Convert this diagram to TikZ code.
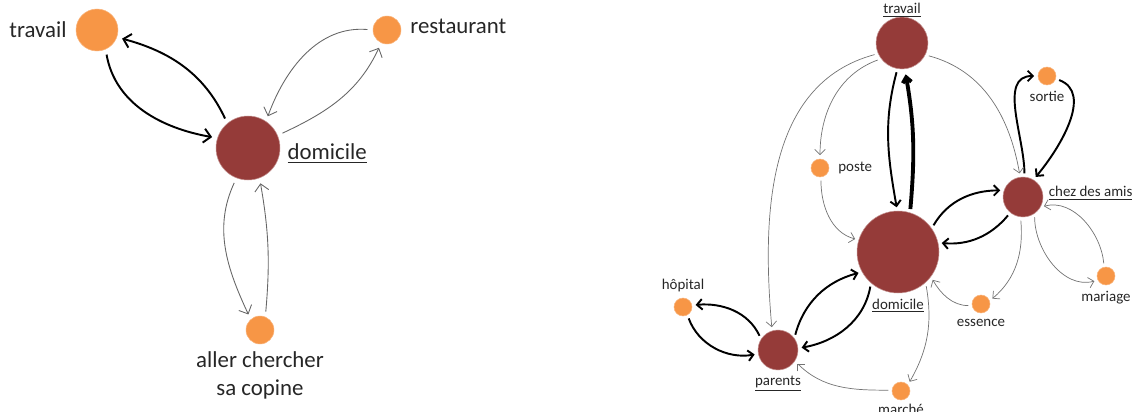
\documentclass[tikz,border=0pt]{standalone}
\usepackage{fontspec}
\setmainfont{Carlito}
\usetikzlibrary{positioning, arrows.meta}
\definecolor{lieu}{HTML}{953B39}
\definecolor{etape}{HTML}{F79646}

\begin{document}
\begin{tikzpicture}[
  x=0.02cm, y=-0.02cm,
  lieu/.style={circle, fill=lieu, draw=lieu!55!white, line width=0.3pt, inner sep=0pt, minimum size=#1},
  etape/.style={circle, fill=etape, draw=etape!70!white, line width=0.3pt, inner sep=0pt, minimum size=#1},
  grand/.style={font=\fontsize{13}{16}\selectfont, text=black!85, inner sep=1pt},
  petit/.style={font=\fontsize{8.5}{10}\selectfont, text=black!85, inner sep=1pt},
  fort/.style={-{Straight Barb[length=4pt,width=8pt]}, line width=1.1pt, shorten <=3pt, shorten >=3pt},
  faible/.style={-{Straight Barb[length=4pt,width=8pt]}, line width=0.5pt, draw=black!60, shorten <=3pt, shorten >=3pt},
  rfort/.style={-{Straight Barb[length=3pt,width=6pt]}, line width=1.1pt, shorten <=2pt, shorten >=2pt},
  rtresfort/.style={-{Straight Barb[length=3pt,width=5pt]}, line width=2.2pt, shorten <=2pt, shorten >=3pt},
  rfaible/.style={-{Straight Barb[length=3pt,width=6pt]}, line width=0.4pt, draw=black!55, shorten <=2pt, shorten >=2pt}
]
  \useasboundingbox (0,0) rectangle (1136,412);

  % Lieux (gauche)
  \node[lieu=1.28cm] (dom) at (248,148) {};
  \node[etape=0.84cm] (trav) at (97,30) {};
  \node[etape=0.56cm] (resto) at (387,30) {};
  \node[etape=0.56cm] (copine) at (260,330) {};

  \node[grand, left=4pt of trav] (travl) {travail};
  \node[grand, right=4pt of resto, yshift=2pt] (restol) {restaurant};
  \node[grand, right=3pt of dom, yshift=-3pt] (doml) {\underline{domicile}};
  \node[grand, below=3pt of copine, align=center] (copinel) {aller chercher\\sa copine};

  % Trajets (gauche)
  \draw[fort] (trav.-66) to[out=-80, in=170] (dom.162);
  \draw[fort] (dom.130) to[out=115, in=-15] (trav.-20);
  \draw[faible] (resto.180) to[out=175, in=70] (dom.56);
  \draw[faible] (dom.23) to[out=25, in=-115] (resto.-114);
  \draw[faible] (dom.-111) to[out=-115, in=115] (copine.131);
  \draw[faible] (copine.68) to[out=85, in=-80] (dom.-69);

  % Lieux (droite)
  \node[lieu=1.04cm] (rtrav) at (902,43) {};
  \node[lieu=1.64cm] (rdom) at (898,252) {};
  \node[lieu=0.8cm] (amis) at (1023,197) {};
  \node[lieu=0.8cm] (parents) at (778,350) {};
  \node[etape=0.36cm] (sortie) at (1047,76) {};
  \node[etape=0.36cm] (poste) at (820,168) {};
  \node[etape=0.36cm] (essence) at (981,304) {};
  \node[etape=0.36cm] (mariage) at (1106,276) {};
  \node[etape=0.36cm] (hopital) at (683,307) {};
  \node[etape=0.36cm] (marche) at (901,391) {};

  \node[petit, above=-1.5pt of rtrav] (rtravl) {\underline{travail}};
  \node[petit, below=2pt of sortie] (sortiel) {sortie};
  \node[petit, right=4pt of poste] (postel) {poste};
  \node[petit, right=2pt of amis, yshift=2pt] (amisl) {\underline{chez des amis}};
  \node[petit, below=2pt of rdom] (rdoml) {\underline{domicile}};
  \node[petit, above=2pt of hopital] (hopitall) {hôpital};
  \node[petit, below=2pt of parents] (parentsl) {\underline{parents}};
  \node[petit, below=2pt of essence] (essencel) {essence};
  \node[petit, below=2pt of mariage] (mariagel) {mariage};
  \node[petit, below=1pt of marche] (marchel) {marché};

  % Trajets (droite)
  \draw[rfort] (rtrav.-100) to[out=-105, in=100] (rdom.91);
  \draw[rtresfort] (rdom.73) to[out=85, in=-80] (rtrav.-84);
  \draw[rfort] (rdom.35) to[out=60, in=180] (amis.161);
  \draw[rfort] (amis.-129) to[out=-130, in=-5] (rdom.13);
  \draw[rfort] (amis.86) to[out=90, in=180] (sortie.180);
  \draw[rfort] (sortie.-18) to[out=-20, in=50] (amis.59);
  \draw[rfort] (parents.36) to[out=75, in=-165] (rdom.-151);
  \draw[rfort] (rdom.-131) to[out=-100, in=10] (parents.5);
  \draw[rfort] (parents.147) to[out=115, in=5] (hopital.11);
  \draw[rfort] (hopital.-61) to[out=-70, in=190] (parents.-169);
  \draw[rfaible] (rtrav.-143) to[out=-160, in=90] (poste.90);
  \draw[rfaible] (poste.-84) to[out=-90, in=165] (rdom.163);
  \draw[rfaible] (rtrav.-156) to[out=-165, in=95] (parents.107);
  \draw[rfaible] (rtrav.-27) to[out=-15, in=100] (amis.98);
  \draw[rfaible] (amis.-97) to[out=-85, in=40] (essence.20);
  \draw[rfaible] (essence.190) to[out=180, in=-60] (rdom.-37);
  \draw[rfaible] (amis.-55) to[out=-90, in=195] (mariage.-153);
  \draw[rfaible] (mariage.102) to[out=95, in=15] (amis.-30);
  \draw[rfaible] (rdom.-48) to[out=-80, in=60] (marche.42);
  \draw[rfaible] (marche.175) to[out=180, in=-45] (parents.-33);
\end{tikzpicture}
\end{document}
